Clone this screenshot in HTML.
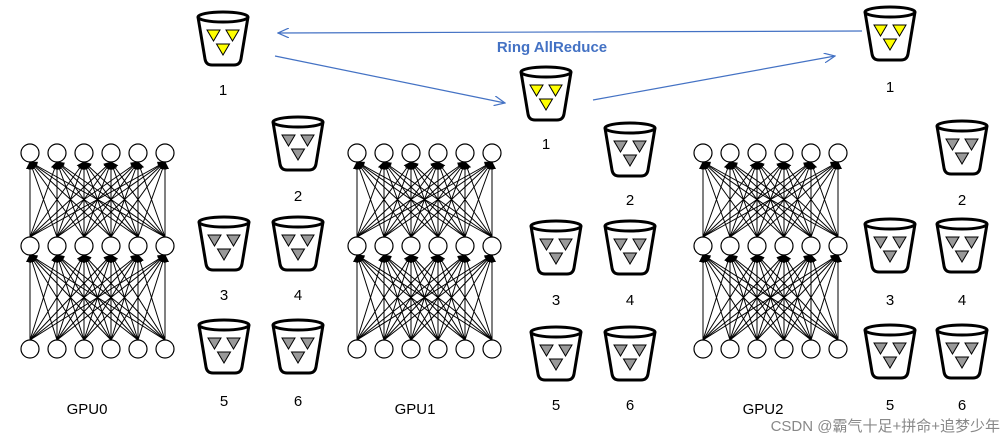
<!DOCTYPE html>
<html><head><meta charset="utf-8"><style>
html,body{margin:0;padding:0;background:#fff;}
svg{display:block;font-family:"Liberation Sans","Noto Sans CJK SC",sans-serif;}
</style></head><body>
<svg id="s" width="1007" height="444" viewBox="0 0 1007 444" xmlns="http://www.w3.org/2000/svg">
<defs>
<marker id="ah" markerWidth="8" markerHeight="8" refX="7" refY="4" orient="auto" markerUnits="userSpaceOnUse"><path d="M0,0 L8,4 L0,8 Z" fill="#000"/></marker>
<marker id="bh" markerWidth="12" markerHeight="10" refX="11" refY="5" orient="auto" markerUnits="userSpaceOnUse"><path d="M0,0 L11,5 L0,10" fill="none" stroke="#4472c4" stroke-width="1.2"/></marker>
<g id="bk">
<path d="M-25,2 L-18,44 Q-17,50 -11,50 L11,50 Q17,50 18,44 L25,2" fill="#fff" stroke="#000" stroke-width="3"/>
<ellipse cx="0" cy="2" rx="25" ry="5" fill="#fff" stroke="#000" stroke-width="3"/>
</g>
<g id="ty"><polygon points="-16,15 -3,15 -9.5,26" fill="#ffff00" stroke="#000"/><polygon points="3,15 16,15 9.5,26" fill="#ffff00" stroke="#000"/><polygon points="-6.5,29 6.5,29 0,40" fill="#ffff00" stroke="#000"/></g>
<g id="tg"><polygon points="-16,15 -3,15 -9.5,26" fill="#999" stroke="#000"/><polygon points="3,15 16,15 9.5,26" fill="#999" stroke="#000"/><polygon points="-6.5,29 6.5,29 0,40" fill="#999" stroke="#000"/></g>
</defs>
<g id="nets"></g>
<g id="bks"></g>
<line x1="862" y1="31" x2="278" y2="33" stroke="#4472c4" stroke-width="1.2" marker-end="url(#bh)"/>
<line x1="275" y1="56" x2="505" y2="103" stroke="#4472c4" stroke-width="1.2" marker-end="url(#bh)"/>
<line x1="593" y1="100" x2="835" y2="56" stroke="#4472c4" stroke-width="1.2" marker-end="url(#bh)"/>
<text x="552" y="52" text-anchor="middle" font-size="15" font-weight="bold" fill="#4472c4">Ring AllReduce</text>
<text x="87" y="414" text-anchor="middle" font-size="15">GPU0</text>
<text x="415" y="414" text-anchor="middle" font-size="15">GPU1</text>
<text x="763" y="414" text-anchor="middle" font-size="15">GPU2</text>
<text x="1000" y="431" text-anchor="end" font-size="15" fill="#888">CSDN @霸气十足+拼命+追梦少年</text>
</svg>
<script>
var NS="http://www.w3.org/2000/svg";
function el(p,t,a){var e=document.createElementNS(NS,t);for(var k in a)e.setAttribute(k,a[k]);p.appendChild(e);return e;}
var nets=document.getElementById("nets");
var rows=[153,246,349],r=9;
[0,327,673].forEach(function(o){
 var xs=[30,57,84,111,138,165].map(function(x){return x+o;});
 for(var l=0;l<2;l++){
  var yl=rows[l+1],yu=rows[l];
  xs.forEach(function(xa){xs.forEach(function(xb){
   var dx=xb-xa,dy=(yu+r)-(yl-r);var len=Math.sqrt(dx*dx+dy*dy);
   el(nets,"line",{x1:xa,y1:yl-r,x2:xb,y2:yu+r,stroke:"#000","stroke-width":1,"marker-end":"url(#ah)"});
  });});
 }
 rows.forEach(function(y){xs.forEach(function(x){el(nets,"circle",{cx:x,cy:y,r:r,fill:"#fff",stroke:"#000","stroke-width":1.2});});});
});
var bks=document.getElementById("bks");
var B=[
[223,15,89,1,1],[298,120,195,2,0],[224,220,294,3,0],[298,220,294,4,0],[224,323,400,5,0],[298,323,400,6,0],
[546,70,143,1,1],[630,126,199,2,0],[556,224,299,3,0],[630,224,299,4,0],[556,330,404,5,0],[630,330,404,6,0],
[890,10,86,1,1],[962,124,199,2,0],[890,222,299,3,0],[962,222,299,4,0],[890,328,404,5,0],[962,328,404,6,0]];
B.forEach(function(b){
 el(bks,"use",{href:"#bk",x:b[0],y:b[1]});
 el(bks,"use",{href:b[4]?"#ty":"#tg",x:b[0],y:b[1]});
 var t=el(bks,"text",{x:b[0],y:b[2]+6,"text-anchor":"middle","font-size":"15"});t.textContent=b[3];
});
</script>
</body></html>
